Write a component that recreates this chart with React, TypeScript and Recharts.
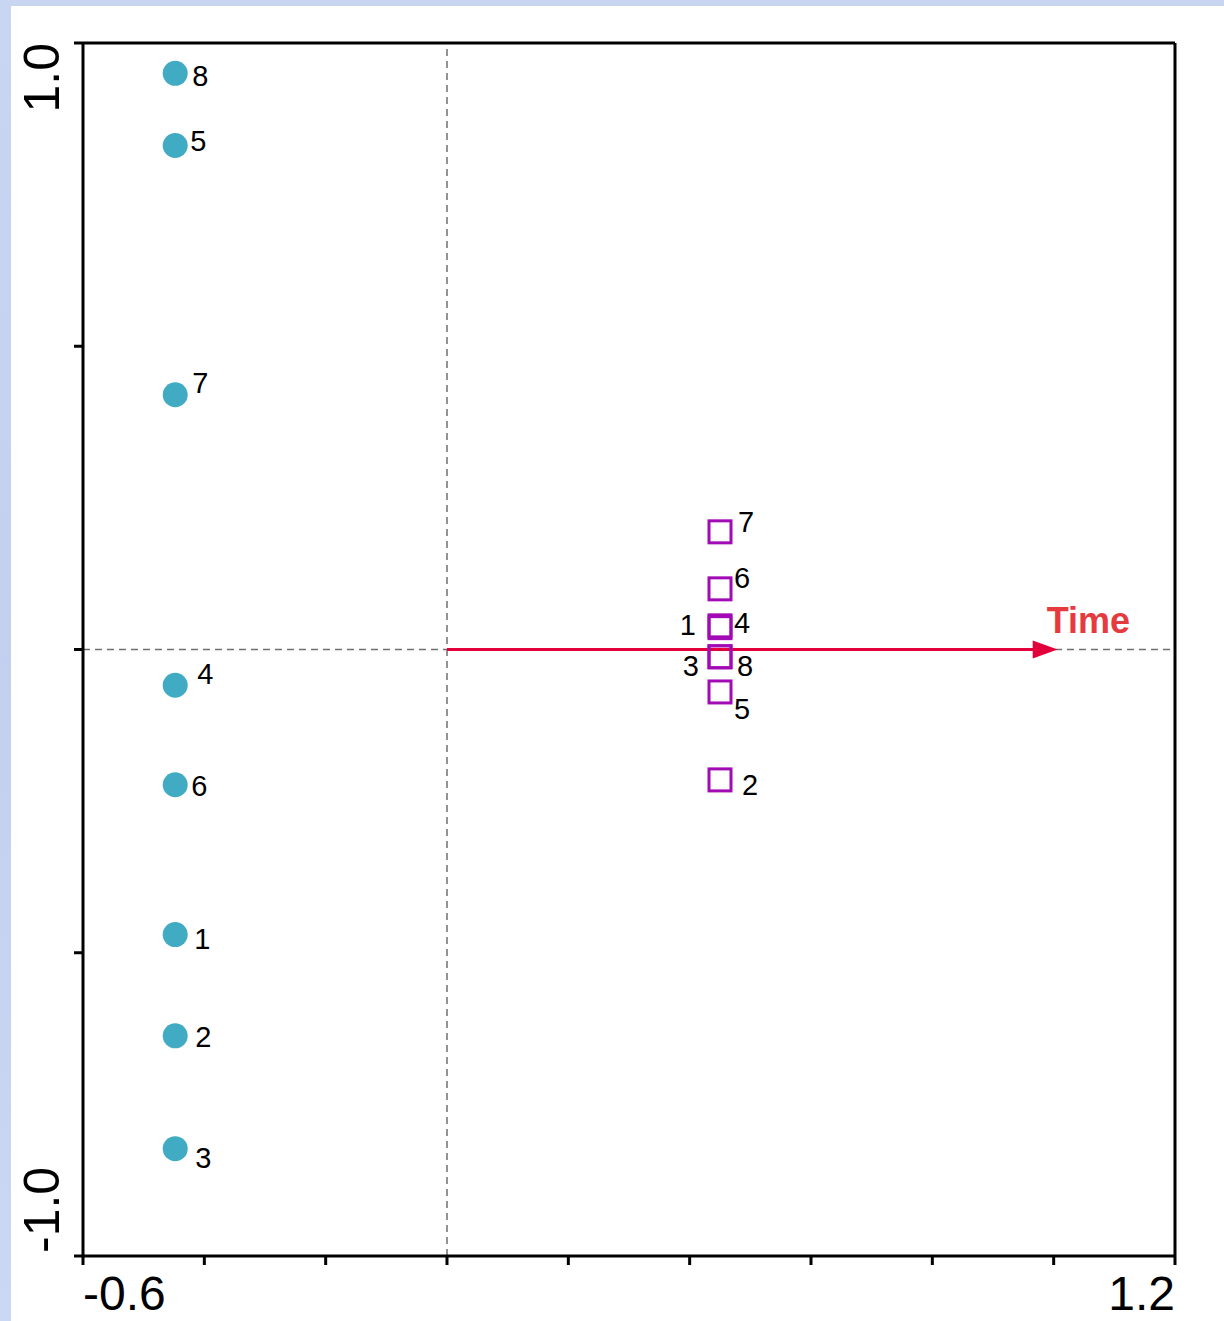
import React from 'react';
import { ScatterChart, Scatter, XAxis, YAxis, ReferenceLine } from 'recharts';

// ---- Data ----
const siteNames = ['8', '5', '7', '4', '6', '1', '2', '3'];
const siteX = [-0.448, -0.448, -0.448, -0.448, -0.448, -0.448, -0.448, -0.448];
const siteY = [0.95, 0.831, 0.42, -0.059, -0.223, -0.47, -0.637, -0.823];

const timeNames = ['7', '6', '1', '4', '3', '8', '5', '2'];
const timeX = [0.45, 0.45, 0.45, 0.45, 0.45, 0.45, 0.45, 0.45];
const timeY = [0.194, 0.1, 0.039, 0.036, -0.012, -0.012, -0.07, -0.215];

const arrowLabel = 'Time';
const arrowX = [0, 1.0];
const arrowY = [0, 0];

const xTicks = [-0.6, -0.4, -0.2, 0, 0.2, 0.4, 0.6, 0.8, 1.0, 1.2];
const yTicks = [-1.0, -0.5, 0, 0.5, 1.0];
const xLabelled = [-0.6, 1.2];
const yLabelled = [-1.0, 1.0];

// ---- Layout (label placement only) ----
const siteLabelPos: Record<string, [number, number, 'start' | 'end']> = {
  '8': [17, 13, 'start'],
  '5': [15, 6, 'start'],
  '7': [17, -2, 'start'],
  '4': [22, -1, 'start'],
  '6': [16, 11, 'start'],
  '1': [19, 14, 'start'],
  '2': [20, 11, 'start'],
  '3': [20, 19, 'start'],
};
const timeLabelPos: Record<string, [number, number, 'start' | 'end']> = {
  '7': [18, 0, 'start'],
  '6': [14, -1, 'start'],
  '1': [-24, 9, 'end'],
  '4': [14, 5, 'start'],
  '3': [-21, 19, 'end'],
  '8': [17, 19, 'start'],
  '5': [14, 27, 'start'],
  '2': [22, 15, 'start'],
};

const siteData = siteNames.map((n, i) => ({ name: n, x: siteX[i], y: siteY[i] }));
const timeData = timeNames.map((n, i) => ({ name: n, x: timeX[i], y: timeY[i] }));
const arrowData = arrowX.map((x, i) => ({ x, y: arrowY[i], end: i === arrowX.length - 1 }));

const FONT = '"Liberation Sans", Arial, Helvetica, sans-serif';
const CIRCLE = '#42abc4';
const SQUARE = '#a20ab5';
const RED = '#e3003a';

const SiteShape = (props: any) => {
  const { cx, cy, payload } = props;
  const p = siteLabelPos[payload.name] || [16, 8, 'start'];
  return (
    <g>
      <circle cx={cx} cy={cy} r={12.5} fill={CIRCLE} />
      <text x={cx + p[0]} y={cy + p[1]} textAnchor={p[2]} fontSize={29} fontFamily={FONT} fill="#000">
        {payload.name}
      </text>
    </g>
  );
};

const TimeShape = (props: any) => {
  const { cx, cy, payload } = props;
  const p = timeLabelPos[payload.name] || [16, 8, 'start'];
  return (
    <g>
      <rect x={cx - 11} y={cy - 11} width={22} height={22} fill="none" stroke={SQUARE} strokeWidth={3} />
      <text x={cx + p[0]} y={cy + p[1]} textAnchor={p[2]} fontSize={29} fontFamily={FONT} fill="#000">
        {payload.name}
      </text>
    </g>
  );
};

const ArrowShape = (props: any) => {
  const { cx, cy, payload } = props;
  if (!payload.end) return <g />;
  return (
    <g>
      <polygon points={`${cx + 4},${cy} ${cx - 21},${cy - 9} ${cx - 21},${cy + 9}`} fill={RED} />
      <text x={cx - 7} y={cy - 17} fontSize={36} fontWeight="bold" fontFamily={FONT} fill="#e63b3e">
        {arrowLabel}
      </text>
    </g>
  );
};

const near = (a: number, b: number) => Math.abs(a - b) < 1e-9;

const XTick = (props: any) => {
  const { x, y, payload } = props;
  const v = payload.value;
  const idx = xLabelled.findIndex((l) => near(l, v));
  if (idx < 0) return <g />;
  return (
    <text x={x} y={y + 45} textAnchor={idx === 0 ? 'start' : 'end'} fontSize={48} fontFamily={FONT} fill="#000">
      {v.toFixed(1)}
    </text>
  );
};

const YTick = (props: any) => {
  const { x, y, payload } = props;
  const v = payload.value;
  const idx = yLabelled.findIndex((l) => near(l, v));
  if (idx < 0) return <g />;
  const tx = x - 15;
  const ty = idx === 0 ? y - 3 : y;
  return (
    <text
      x={tx}
      y={ty}
      transform={`rotate(-90, ${tx}, ${ty})`}
      textAnchor={idx === 0 ? 'start' : 'end'}
      fontSize={50}
      fontFamily={FONT}
      fill="#000"
    >
      {v.toFixed(1)}
    </text>
  );
};

export default function App() {
  return (
    <div style={{ position: 'absolute', left: 0, top: 0, width: 1224, height: 1321, background: 'linear-gradient(180deg, #c9d6f2 0%, #c2cfee 50%, #cad8f3 100%)', overflow: 'hidden' }}>
      <div style={{ position: 'absolute', left: 11, top: 6, width: 1213, height: 1315, background: '#ffffff' }} />
      <div style={{ position: 'absolute', left: 0, top: 0 }}>
        <ScatterChart width={1224} height={1321} margin={{ top: 43, right: 49, bottom: 5, left: 23 }}>
          <XAxis
            type="number"
            dataKey="x"
            domain={[-0.6, 1.2]}
            ticks={xTicks}
            allowDataOverflow
            height={60}
            tickSize={9}
            tickMargin={0}
            tick={<XTick />}
            tickLine={{ stroke: '#000', strokeWidth: 3 }}
            axisLine={{ stroke: '#000', strokeWidth: 3 }}
          />
          <YAxis
            type="number"
            dataKey="y"
            domain={[-1, 1]}
            ticks={yTicks}
            allowDataOverflow
            width={60}
            tickSize={9}
            tickMargin={0}
            tick={<YTick />}
            tickLine={{ stroke: '#000', strokeWidth: 3 }}
            axisLine={{ stroke: '#000', strokeWidth: 3 }}
          />
          <ReferenceLine x={0} stroke="#707070" strokeWidth={1.5} strokeDasharray="7 5" />
          <ReferenceLine y={0} stroke="#707070" strokeWidth={1.5} strokeDasharray="7 5" />
          <ReferenceLine y={1} stroke="#000" strokeWidth={3} />
          <ReferenceLine x={1.2} stroke="#000" strokeWidth={3} />
          <Scatter data={arrowData} line={{ stroke: RED, strokeWidth: 3 }} lineType="joint" shape={<ArrowShape />} isAnimationActive={false} />
          <Scatter data={siteData} shape={<SiteShape />} isAnimationActive={false} />
          <Scatter data={timeData} shape={<TimeShape />} isAnimationActive={false} />
        </ScatterChart>
      </div>
    </div>
  );
}
